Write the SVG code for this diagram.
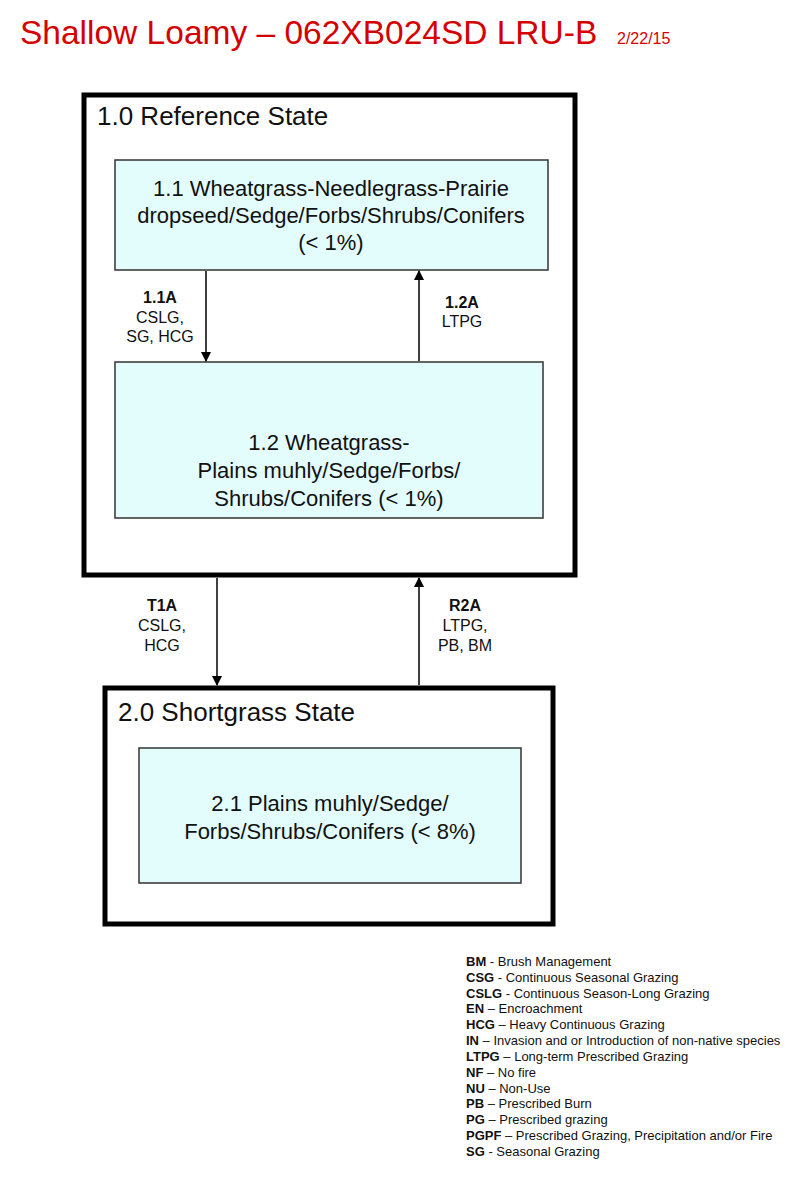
<svg xmlns="http://www.w3.org/2000/svg" width="800" height="1181" viewBox="0 0 800 1181">
<style>
text{font-family:"Liberation Sans",Arial,sans-serif;fill:#111}
.title{fill:#d40000;font-size:33.5px}
.date{fill:#d40000;font-size:16px}
.state{fill:none;stroke:#000;stroke-width:5}
.comm{fill:#e3fcfc;stroke:#333;stroke-width:1.5}
.st{font-size:26px}
.ct{font-size:22px;text-anchor:middle}
.lb{font-size:16px;text-anchor:middle}
.b{font-weight:bold}
.lg{font-size:13px}
.conn line{stroke:#000;stroke-width:1.5}
</style>
<defs>
<marker id="ah" markerWidth="10" markerHeight="10" refX="9" refY="5" orient="auto" markerUnits="userSpaceOnUse">
<path d="M0,0 L10,5 L0,10 z" fill="#000"/>
</marker>
</defs>
<text class="title" x="20" y="44">Shallow Loamy – 062XB024SD LRU-B</text>
<text class="date" x="617" y="44">2/22/15</text>
<g id="state1">
<rect class="state" x="84" y="95" width="491" height="480"/>
<text class="st" x="97" y="125">1.0 Reference State</text>
</g>
<g id="comm11">
<rect class="comm" x="115" y="160" width="433" height="110"/>
<text class="ct" x="331" y="196">1.1 Wheatgrass-Needlegrass-Prairie</text>
<text class="ct" x="331" y="223">dropseed/Sedge/Forbs/Shrubs/Conifers</text>
<text class="ct" x="331" y="250">(&lt; 1%)</text>
</g>
<g id="comm12">
<rect class="comm" x="115" y="362" width="428" height="156"/>
<text class="ct" x="329" y="450">1.2 Wheatgrass-</text>
<text class="ct" x="329" y="478">Plains muhly/Sedge/Forbs/</text>
<text class="ct" x="329" y="506">Shrubs/Conifers (&lt; 1%)</text>
</g>
<g id="state2">
<rect class="state" x="105" y="688" width="448" height="236"/>
<text class="st" x="118" y="721">2.0 Shortgrass State</text>
</g>
<g id="comm21">
<rect class="comm" x="139" y="748" width="382" height="135"/>
<text class="ct" x="330" y="811">2.1 Plains muhly/Sedge/</text>
<text class="ct" x="330" y="839">Forbs/Shrubs/Conifers (&lt; 8%)</text>
</g>
<g id="connectors" class="conn">
<line x1="206" y1="271" x2="206" y2="361" marker-end="url(#ah)"/>
<line x1="419" y1="361" x2="419" y2="271" marker-end="url(#ah)"/>
<line x1="217" y1="578" x2="217" y2="685" marker-end="url(#ah)"/>
<line x1="419" y1="685" x2="419" y2="578" marker-end="url(#ah)"/>
</g>
<g id="labels">
<text class="lb b" x="160" y="303">1.1A</text>
<text class="lb" x="160" y="323">CSLG,</text>
<text class="lb" x="160" y="342">SG, HCG</text>
<text class="lb b" x="462" y="308">1.2A</text>
<text class="lb" x="462" y="327">LTPG</text>
<text class="lb b" x="162" y="611">T1A</text>
<text class="lb" x="162" y="631">CSLG,</text>
<text class="lb" x="162" y="651">HCG</text>
<text class="lb b" x="465" y="611">R2A</text>
<text class="lb" x="465" y="631">LTPG,</text>
<text class="lb" x="465" y="651">PB, BM</text>
</g>
<g id="legend">
<text class="lg" x="466" y="966"><tspan class="b">BM</tspan> - Brush Management</text>
<text class="lg" x="466" y="982"><tspan class="b">CSG</tspan> - Continuous Seasonal Grazing</text>
<text class="lg" x="466" y="998"><tspan class="b">CSLG</tspan> - Continuous Season-Long Grazing</text>
<text class="lg" x="466" y="1013"><tspan class="b">EN</tspan> – Encroachment</text>
<text class="lg" x="466" y="1029"><tspan class="b">HCG</tspan> – Heavy Continuous Grazing</text>
<text class="lg" x="466" y="1045"><tspan class="b">IN</tspan> – Invasion and or Introduction of non-native species</text>
<text class="lg" x="466" y="1061"><tspan class="b">LTPG</tspan> – Long-term Prescribed Grazing</text>
<text class="lg" x="466" y="1077"><tspan class="b">NF</tspan> – No fire</text>
<text class="lg" x="466" y="1093"><tspan class="b">NU</tspan> – Non-Use</text>
<text class="lg" x="466" y="1108"><tspan class="b">PB</tspan> – Prescribed Burn</text>
<text class="lg" x="466" y="1124"><tspan class="b">PG</tspan> – Prescribed grazing</text>
<text class="lg" x="466" y="1140"><tspan class="b">PGPF</tspan> – Prescribed Grazing, Precipitation and/or Fire</text>
<text class="lg" x="466" y="1156"><tspan class="b">SG</tspan> - Seasonal Grazing</text>
</g>
</svg>
